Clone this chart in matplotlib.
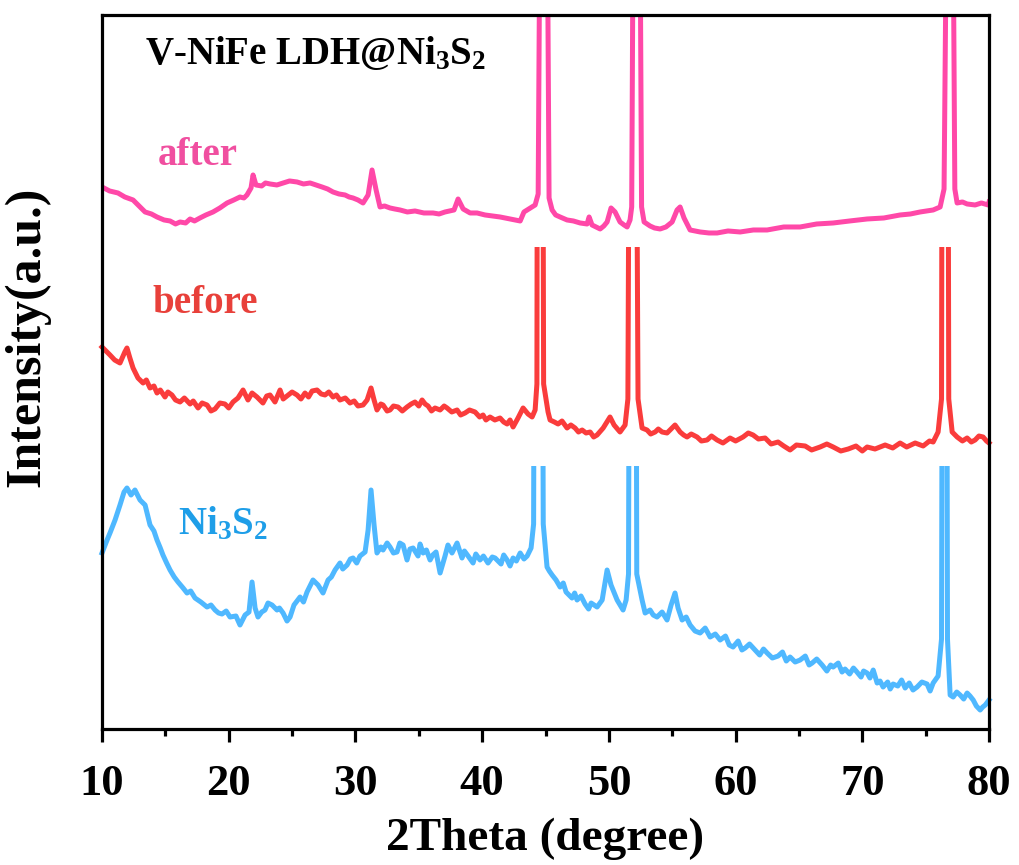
import matplotlib
matplotlib.use("Agg")
import matplotlib.pyplot as plt
from matplotlib.patches import Rectangle

plt.rcParams['font.family'] = ['Liberation Serif', 'DejaVu Serif']
plt.rcParams['font.weight'] = 'bold'
plt.rcParams['mathtext.fontset'] = 'custom'
plt.rcParams['mathtext.rm'] = 'Liberation Serif:bold'
plt.rcParams['mathtext.it'] = 'Liberation Serif:bold'
plt.rcParams['mathtext.bf'] = 'Liberation Serif:bold'

# ---- data (2theta in degree, intensity in a.u.) ----
# each curve is shifted vertically as in the figure; strong peaks run off the top
after_x = [10.0, 10.6, 11.26, 11.8, 12.45, 13.0, 13.4, 13.9, 14.34, 14.9, 15.37, 15.8, 16.16,
           16.6, 16.95, 17.3, 17.73, 18.2, 18.76, 19.3, 19.87, 20.4, 20.89, 21.2, 21.44, 21.76,
           21.92, 22.15, 22.6, 22.9, 23.26, 23.8, 24.29, 24.8, 25.39, 25.9, 26.42, 26.9, 27.36,
           27.8, 28.23, 28.7, 29.18, 29.5, 29.81, 30.2, 30.6, 31.0, 31.31, 31.63, 31.94, 32.3,
           32.73, 33.1, 33.52, 34.1, 34.7, 35.4, 36.12, 36.6, 37.07, 37.78, 38.1, 38.5, 39.05,
           39.6, 40.23, 40.8, 41.41, 41.8, 42.2, 42.6, 43.0, 43.3, 43.8, 44.18, 44.42, 44.6,
           45.1, 45.28, 45.52, 45.8, 46.15, 46.7, 47.2, 47.73, 48.28, 48.44, 48.67, 49.0, 49.31,
           49.6, 49.86, 50.17, 50.49, 50.88, 51.2, 51.44, 51.67, 51.8, 51.95, 52.42, 52.58,
           52.78, 53.25, 53.6, 54.04, 54.5, 54.99, 55.38, 55.62, 55.93, 56.41, 56.8, 57.2, 57.9,
           58.54, 59.4, 60.36, 61.4, 62.49, 63.8, 65.09, 66.4, 67.7, 69.0, 70.38, 71.7, 72.98,
           73.8, 74.56, 75.1, 75.59, 76.14, 76.45, 76.7, 77.12, 77.3, 77.48, 77.9, 78.27, 78.9,
           79.4, 79.93, 80.0]
after_y = [542, 538, 536, 532, 529, 522, 517, 515, 512, 509, 508, 505, 507,
           506, 510, 508, 511, 514, 517, 521, 526, 529, 532, 531, 534, 541,
           554, 544, 543, 546, 545, 544, 546, 548, 547, 545, 546, 544, 542,
           540, 537, 535, 534, 532, 531, 529, 526, 534, 559, 539, 522, 523,
           521, 520, 519, 517, 518, 516, 516, 515, 517, 519, 530, 520, 516,
           516, 514, 513, 512, 511, 510, 509, 508, 517, 521, 524, 535, 900,
           900, 531, 519, 514, 512, 509, 508, 506, 505, 512, 504, 502, 500,
           503, 507, 521, 517, 507, 504, 502, 509, 522, 900, 900, 522, 507,
           503, 501, 500, 502, 507, 519, 522, 511, 499, 498, 497, 496,
           496, 498, 497, 499, 499, 502, 502, 505, 506, 508, 510, 511, 514,
           515, 517, 518, 519, 522, 540, 900, 900, 540, 526, 527, 525, 524,
           526, 524, 527]

before_x = [10.0, 10.24, 10.63, 11.0, 11.42, 11.8, 11.97, 12.2, 12.45, 12.84, 13.24, 13.5,
            13.79, 14.1, 14.34, 14.6, 14.97, 15.2, 15.52, 15.8, 16.16, 16.5, 16.95, 17.2, 17.58,
            17.9, 18.29, 18.6, 18.92, 19.3, 19.7, 20.0, 20.34, 20.73, 21.13, 21.52, 21.84, 22.23,
            22.7, 23.0, 23.26, 23.65, 24.05, 24.3, 24.6, 25.0, 25.39, 25.7, 26.02, 26.3, 26.58,
            26.97, 27.3, 27.6, 27.9, 28.23, 28.5, 28.78, 29.2, 29.57, 29.9, 30.2, 30.6, 30.92,
            31.23, 31.47, 31.7, 32.0, 32.18, 32.5, 32.73, 33.0, 33.36, 33.7, 34.07, 34.4, 34.7,
            35.0, 35.26, 35.5, 35.73, 36.0, 36.28, 36.68, 37.0, 37.23, 37.6, 38.02, 38.3, 38.65,
            39.0, 39.44, 39.8, 40.07, 40.3, 40.62, 41.0, 41.41, 41.7, 41.97, 42.2, 42.44, 42.83,
            43.23, 43.62, 43.94, 44.18, 44.32, 44.36, 44.78, 44.85, 45.2, 45.36, 45.7, 45.99,
            46.3, 46.7, 47.0, 47.33, 47.6, 47.89, 48.2, 48.52, 48.8, 49.07, 49.55, 50.09, 50.41,
            50.88, 51.28, 51.5, 51.62, 52.15, 52.3, 52.62, 53.01, 53.3, 53.65, 53.9, 54.2, 54.59,
            54.99, 55.22, 55.62, 55.9, 56.17, 56.5, 56.96, 57.3, 57.75, 58.1, 58.54, 59.0, 59.56,
            60.0, 60.59, 61.0, 61.38, 61.8, 62.33, 62.8, 63.35, 63.8, 64.3, 64.8, 65.49, 66.0,
            66.67, 67.2, 67.7, 68.3, 68.89, 69.5, 70.0, 70.38, 71.0, 71.8, 72.4, 72.98, 73.5,
            74.17, 74.8, 75.3, 75.59, 75.98, 76.25, 76.3, 76.76, 76.82, 77.09, 77.48, 77.9, 78.27,
            78.6, 78.9, 79.2, 79.53, 79.8, 80.0]
before_y = [382, 379, 374, 369, 366, 377, 381, 371, 361, 351, 346, 349,
            341, 343, 336, 339, 332, 337, 334, 329, 327, 331, 325, 328, 321,
            326, 324, 318, 320, 326, 325, 321, 327, 331, 339, 329, 336, 332,
            326, 333, 334, 327, 339, 330, 333, 337, 334, 330, 336, 332, 338,
            339, 335, 334, 337, 332, 334, 329, 331, 326, 328, 323, 324, 329,
            341, 329, 319, 325, 324, 318, 319, 323, 322, 318, 322, 325, 327,
            323, 329, 325, 323, 318, 321, 319, 323, 321, 317, 319, 314, 316,
            319, 317, 312, 314, 309, 312, 309, 311, 307, 305, 309, 302, 311,
            321, 315, 312, 319, 345, 700, 700, 345, 317, 309, 307, 305,
            308, 301, 304, 301, 297, 299, 296, 297, 292, 294, 301, 312, 304,
            297, 304, 330, 700, 700, 330, 301, 299, 295, 297, 300, 297, 296,
            301, 304, 297, 294, 292, 295, 292, 288, 289, 293, 289, 286, 291,
            288, 292, 296, 294, 290, 291, 285, 287, 283, 279, 284, 283, 279,
            282, 285, 282, 278, 280, 283, 278, 282, 280, 284, 281, 286, 282,
            286, 283, 288, 287, 297, 330, 700, 700, 330, 297, 292, 288, 291,
            287, 289, 293, 292, 288, 286]

ni3s2_x = [10.0, 10.4, 10.63, 11.03, 11.42, 11.74, 11.97, 12.29, 12.6, 13.0, 13.4, 13.79,
           14.1, 14.34, 14.6, 14.81, 15.1, 15.37, 15.7, 16.0, 16.4, 16.71, 17.0, 17.34, 17.8,
           18.29, 18.6, 18.92, 19.2, 19.47, 19.8, 20.1, 20.57, 20.89, 21.29, 21.6, 21.84, 22.08,
           22.31, 22.6, 22.86, 23.1, 23.42, 23.81, 24.0, 24.29, 24.6, 24.84, 25.15, 25.63, 25.9,
           26.18, 26.65, 27.05, 27.44, 27.84, 28.1, 28.39, 28.78, 29.0, 29.34, 29.6, 29.81,
           30.1, 30.36, 30.76, 31.0, 31.23, 31.47, 31.7, 32.0, 32.18, 32.5, 32.73, 33.0, 33.28,
           33.5, 33.76, 34.07, 34.3, 34.55, 34.94, 35.1, 35.34, 35.6, 35.89, 36.1, 36.36, 36.68,
           37.07, 37.3, 37.62, 38.02, 38.41, 38.6, 38.89, 39.28, 39.5, 39.83, 40.1, 40.46, 40.8,
           41.02, 41.49, 41.7, 41.97, 42.2, 42.44, 42.7, 43.0, 43.3, 43.55, 43.86, 44.06, 44.12,
           44.75, 44.82, 45.12, 45.3, 45.52, 45.83, 46.15, 46.4, 46.62, 47.09, 47.3, 47.49,
           47.8, 48.12, 48.4, 48.6, 49.07, 49.47, 49.86, 50.17, 50.65, 51.12, 51.36, 51.55,
           51.62, 52.14, 52.2, 52.62, 52.86, 53.25, 53.5, 53.8, 54.2, 54.59, 54.91, 55.22, 55.46,
           55.78, 56.1, 56.41, 56.8, 57.2, 57.6, 57.99, 58.4, 58.78, 59.2, 59.5, 59.8, 60.2,
           60.5, 60.75, 61.1, 61.54, 61.9, 62.2, 62.49, 62.9, 63.35, 63.7, 64.0, 64.3, 64.7,
           65.09, 65.5, 65.8, 66.04, 66.4, 66.83, 67.2, 67.5, 67.7, 68.1, 68.4, 68.64, 69.0,
           69.3, 69.51, 69.9, 70.1, 70.38, 70.6, 70.86, 71.17, 71.4, 71.64, 72.0, 72.2, 72.43,
           72.8, 73.1, 73.38, 73.7, 74.0, 74.32, 74.7, 75.11, 75.35, 75.59, 75.98, 76.25, 76.32,
           76.66, 76.72, 76.93, 77.17, 77.45, 77.72, 78.0, 78.27, 78.5, 78.75, 79.0, 79.3, 79.5,
           79.7, 80.0]
ni3s2_y = [176, 189, 196, 209, 224, 237, 241, 234, 239, 229, 224, 204,
           198, 189, 181, 174, 166, 159, 152, 147, 141, 136, 138, 131, 127,
           122, 124, 119, 116, 115, 118, 112, 113, 104, 114, 117, 147, 121,
           112, 117, 119, 126, 124, 119, 121, 116, 108, 112, 124, 132, 127,
           137, 149, 144, 136, 149, 152, 159, 166, 160, 164, 170, 171,
           166, 173, 177, 199, 239, 204, 176, 182, 179, 186, 182, 176, 177,
           186, 184, 169, 180, 181, 173, 185, 176, 179, 169, 174, 177, 156,
           173, 184, 176, 186, 171, 178, 173, 166, 175, 169, 173, 166, 172,
           171, 165, 174, 169, 163, 171, 168, 176, 170, 173, 181, 205, 500,
           500, 205, 162, 158, 154, 149, 142, 146, 137, 131, 136, 129,
           133, 125, 120, 126, 122, 129, 159, 144, 129, 119, 129, 155,
           500, 500, 155, 129, 116, 119, 114, 112, 117, 109, 124, 136, 121,
           109, 112, 104, 98, 96, 101, 92, 95, 89, 93, 84, 82, 88,
           79, 81, 85, 79, 74, 80, 76, 71, 73, 77, 68, 72, 67,
           69, 73, 64, 66, 70, 64, 58, 64, 62, 66, 57, 60, 55,
           61, 58, 52, 58, 56, 51, 59, 46, 48, 42, 47, 40, 45,
           43, 49, 41, 46, 39, 42, 47, 45, 38, 46, 53, 90, 500,
           500, 90, 34, 32, 37, 34, 30, 36, 33, 29, 23, 19, 22,
           24, 29]

series = [
    (after_x, after_y, '#FF48A8', None),
    (before_x, before_y, '#FA3C3C', 482),
    (ni3s2_x, ni3s2_y, '#4FB8FF', 263),
]

fig = plt.figure(figsize=(10.19, 8.65), dpi=100)
ax = fig.add_axes([0.1001, 0.1572, 0.8705, 0.8255])

for xs, ys, col, top in series:
    line, = ax.plot(xs, ys, color=col, lw=3.6, solid_joinstyle='round')
    if top is not None:
        clip = Rectangle((0, -100), 100, top + 100, transform=ax.transData)
        line.set_clip_path(clip)

ax.set_xlim(10, 80)
ax.set_ylim(0, 714)
ax.set_yticks([])
ax.set_xticks(range(10, 81, 10))
ax.set_xticks(range(15, 80, 10), minor=True)
ax.tick_params(axis='x', which='major', direction='out', length=9, width=2.3,
               labelsize=32, pad=16)
ax.tick_params(axis='x', which='minor', direction='out', length=5, width=2.3)
for sp in ax.spines.values():
    sp.set_linewidth(2.3)

ax.set_xlabel('2Theta (degree)', fontsize=34, fontweight='bold', labelpad=10)
ax.set_ylabel('Intensity(a.u.)', fontsize=36, fontweight='bold')
ax.yaxis.set_label_coords(-0.058, 0.549)

ax.text(13.4, 665, r'V-NiFe LDH@Ni$_3$S$_2$', fontsize=28, fontweight='bold',
        color='black', va='baseline')
ax.text(14.42, 564, 'after', fontsize=28, fontweight='bold', color='#F04FA0', va='baseline')
ax.text(13.95, 416, 'before', fontsize=28, fontweight='bold', color='#E8403A', va='baseline')
ax.text(15.97, 195, r'Ni$_3$S$_2$', fontsize=28, fontweight='bold', color='#1E9EE8',
        va='baseline')

fig.savefig('out.png', dpi=100)
